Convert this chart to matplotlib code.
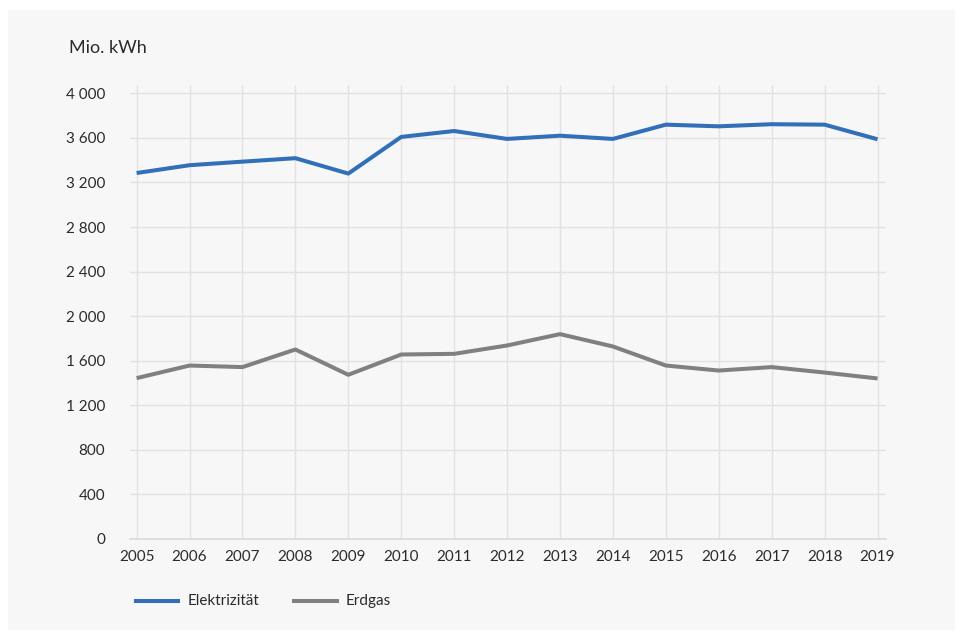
import matplotlib.pyplot as plt
from matplotlib.patches import Rectangle
from matplotlib.lines import Line2D

#Data
years = list(range(2005, 2020))
elektrizitaet = [3285, 3355, 3387, 3418, 3280, 3609, 3662, 3591, 3620, 3591,
                 3719, 3704, 3723, 3719, 3588]
erdgas = [1444, 1557, 1543, 1701, 1474, 1656, 1662, 1737, 1839, 1728,
          1557, 1512, 1543, 1494, 1441]
yticks = [0, 400, 800, 1200, 1600, 2000, 2400, 2800, 3200, 3600, 4000]
ylabels = ["0", "400", "800", "1 200", "1 600", "2 000", "2 400", "2 800",
           "3 200", "3 600", "4 000"]

plt.rcParams['font.family'] = ['Lato', 'DejaVu Sans']

blue = '#3170b8'
grey = '#808080'
bg = '#f7f7f7'
gridc = '#e2e2e2'
textc = '#2b2b2b'

W, H = 963, 637
fig = plt.figure(figsize=(W / 100, H / 100), dpi=100, facecolor='white')

#Grey panel behind everything
fig.patches.append(Rectangle((8 / W, 1 - 630 / H), (955 - 8) / W, (630 - 10) / H,
                             transform=fig.transFigure, facecolor=bg,
                             edgecolor='none', zorder=-10))

ax = fig.add_axes([130 / W, 1 - 539 / H, (886 - 130) / W, (539 - 85) / H])
ax.set_facecolor(bg)

ax.plot(years, elektrizitaet, color=blue, lw=2.9, solid_capstyle='butt', zorder=3)
ax.plot(years, erdgas, color=grey, lw=2.9, solid_capstyle='butt', zorder=3)

ax.set_xlim(2004.875, 2019.16)
ax.set_ylim(0, 4075)
ax.set_xticks(years)
ax.set_xticklabels([str(y) for y in years])
ax.set_yticks(yticks)
ax.set_yticklabels(ylabels)

ax.grid(True, color=gridc, lw=1.0, zorder=0)
ax.set_axisbelow(True)
for s in ['top', 'right', 'left']:
    ax.spines[s].set_visible(False)
ax.spines['bottom'].set_color('#dcdcdc')
ax.spines['bottom'].set_linewidth(1.3)

ax.tick_params(axis='both', length=0, labelsize=11, colors=textc)
ax.tick_params(axis='y', pad=18)
ax.tick_params(axis='x', pad=8)

#Unit label
fig.text(69 / W, 1 - 48 / H, "Mio. kWh", fontsize=13, color=textc,
         ha='left', va='center')

#Legend drawn by hand at the bottom
ly = 1 - 601 / H
fig.lines.append(Line2D([136 / W, 178 / W], [ly, ly], color=blue, lw=2.9,
                        transform=fig.transFigure))
fig.text(188 / W, ly, "Elektrizität", fontsize=11, color=textc, va='center')
fig.lines.append(Line2D([294 / W, 337 / W], [ly, ly], color=grey, lw=2.9,
                        transform=fig.transFigure))
fig.text(346 / W, ly, "Erdgas", fontsize=11, color=textc, va='center')

fig.savefig('out.png', dpi=100, facecolor='white')
